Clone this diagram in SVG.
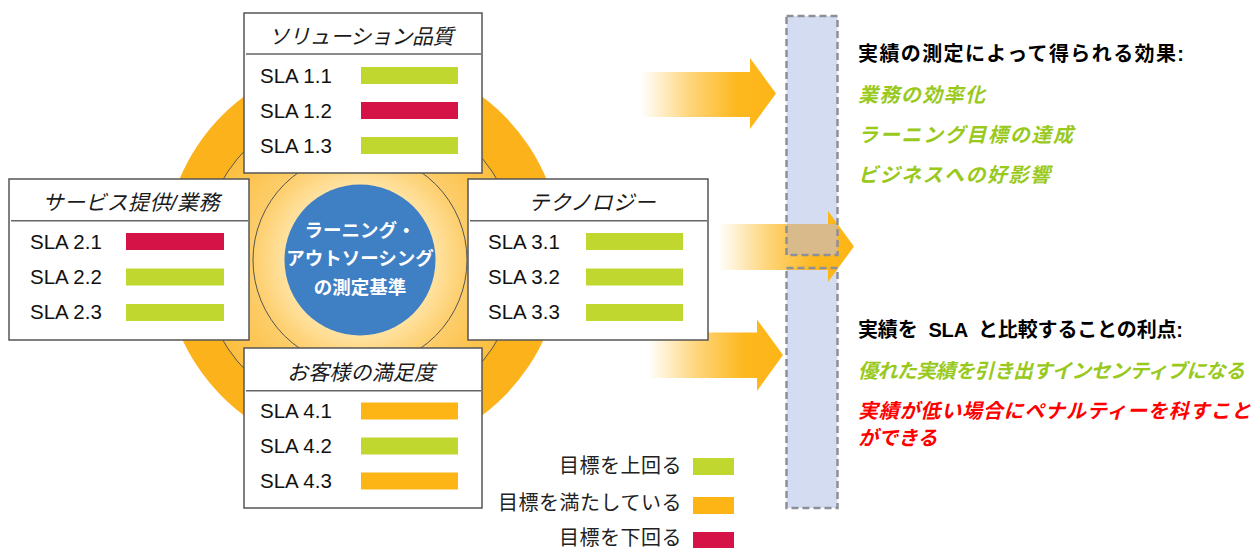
<svg xmlns="http://www.w3.org/2000/svg" width="1255" height="548" viewBox="0 0 1255 548">
<defs>
<radialGradient id="disc" cx="360" cy="260" r="200" gradientUnits="userSpaceOnUse">
<stop offset="0" stop-color="#FFF2CF"/>
<stop offset="0.38" stop-color="#FFE2A0"/>
<stop offset="0.54" stop-color="#FDCD6A"/>
<stop offset="0.8" stop-color="#FCBE3E"/>
<stop offset="1" stop-color="#FCB31B"/>
</radialGradient>
<linearGradient id="arrowGrad" x1="0" y1="0" x2="1" y2="0">
<stop offset="0" stop-color="#FDB515" stop-opacity="0"/>
<stop offset="0.35" stop-color="#FDB515" stop-opacity="0.55"/>
<stop offset="0.7" stop-color="#FDB515" stop-opacity="0.95"/>
<stop offset="1" stop-color="#FDB515" stop-opacity="1"/>
</linearGradient>
<style>
.box{fill:#fff;stroke:#555;stroke-width:1.5}
.div{stroke:#666;stroke-width:1.5}
.ttl{font-family:"Liberation Sans","Noto Sans CJK JP",sans-serif;font-size:21px;font-style:italic;fill:#1a1a1a;text-anchor:middle}
.sla{font-family:"Liberation Sans","Noto Sans CJK JP",sans-serif;font-size:20.5px;fill:#111}
.g{fill:#C0D72F}
.r{fill:#D51346}
.o{fill:#FDB515}
.ring{fill:none;stroke:#555;stroke-width:1}
.ctr{font-family:"Liberation Sans","Noto Sans CJK JP",sans-serif;font-size:18.5px;font-weight:bold;fill:#fff;text-anchor:middle}
.hd{font-family:"Liberation Sans","Noto Sans CJK JP",sans-serif;font-size:20px;font-weight:bold;fill:#000}
.gi{font-family:"Liberation Sans","Noto Sans CJK JP",sans-serif;font-size:20px;font-weight:bold;font-style:italic;fill:#99C91C}
.ri{font-family:"Liberation Sans","Noto Sans CJK JP",sans-serif;font-size:20px;font-weight:bold;font-style:italic;fill:#FF0000}
.lg{font-family:"Liberation Sans","Noto Sans CJK JP",sans-serif;font-size:20px;fill:#222;text-anchor:end;letter-spacing:0.5px}
.pane{fill:#D3DCF0}
.dash{fill:none;stroke:#8E9098;stroke-width:2.5;stroke-dasharray:7 4}
</style>
</defs>
<g id="hub">
<circle cx="363" cy="256" r="199" fill="#FCB31B"/>
<circle cx="360" cy="260" r="159" fill="url(#disc)"/>
<circle cx="360" cy="260" r="159" class="ring"/>
<circle cx="360" cy="260" r="107" class="ring"/>
<circle cx="360" cy="260" r="75.5" fill="#3F7FC4"/>
<text class="ctr" x="360" y="237">ラーニング・</text>
<text class="ctr" x="360" y="265">アウトソーシング</text>
<text class="ctr" x="360" y="293.5">の測定基準</text>
</g>
<g id="pane-lower">
<rect class="pane" x="786.5" y="268" width="51" height="240"/>
</g>
<g id="pane-upper-fill">
<rect class="pane" x="786.5" y="16" width="51" height="239"/>
</g>
<g id="connectors">
<path d="M641,72 H750 V58 L776,93.5 L750,129 V117 H641 Z" fill="url(#arrowGrad)"/>
<path d="M718,224 H828 V211 L854,246.5 L828,282 V270 H718 Z" fill="url(#arrowGrad)"/>
<path d="M648,332.5 H757 V319.5 L783,355 L757,391 V378 H648 Z" fill="url(#arrowGrad)"/>
<rect x="786.5" y="224" width="51" height="31" fill="#D9BA8B"/>
</g>
<g id="pane">
<rect class="dash" x="786.5" y="16" width="51" height="239"/>
<rect class="dash" x="786.5" y="268" width="51" height="240"/>
</g>
<g id="box-solution">
<rect class="box" x="244" y="13" width="238" height="160"/>
<line class="div" x1="246" y1="54" x2="481" y2="54"/>
<text class="ttl" x="361" y="43.5" textLength="185">ソリューション品質</text>
<text class="sla" x="260" y="83.3">SLA 1.1</text>
<rect class="g" x="361" y="67" width="97" height="17"/>
<text class="sla" x="260" y="118.3">SLA 1.2</text>
<rect class="r" x="361" y="102" width="97" height="17"/>
<text class="sla" x="260" y="153.3">SLA 1.3</text>
<rect class="g" x="361" y="137" width="97" height="17"/>
</g>
<g id="box-service">
<rect class="box" x="9" y="179" width="240" height="161"/>
<line class="div" x1="11" y1="220.7" x2="248" y2="220.7"/>
<text class="ttl" x="131" y="210" textLength="177">サービス提供/業務</text>
<text class="sla" x="30" y="249.3">SLA 2.1</text>
<rect class="r" x="126" y="233" width="98" height="17"/>
<text class="sla" x="30" y="284.3">SLA 2.2</text>
<rect class="g" x="126" y="268.5" width="98" height="17"/>
<text class="sla" x="30" y="319.3">SLA 2.3</text>
<rect class="g" x="126" y="304" width="98" height="17"/>
</g>
<g id="box-technology">
<rect class="box" x="468" y="179" width="240" height="161"/>
<line class="div" x1="470" y1="220.7" x2="707" y2="220.7"/>
<text class="ttl" x="592" y="210" textLength="127">テクノロジー</text>
<text class="sla" x="488" y="249.3">SLA 3.1</text>
<rect class="g" x="586" y="233" width="97" height="17"/>
<text class="sla" x="488" y="284.3">SLA 3.2</text>
<rect class="g" x="586" y="268.5" width="97" height="17"/>
<text class="sla" x="488" y="319.3">SLA 3.3</text>
<rect class="g" x="586" y="304" width="97" height="17"/>
</g>
<g id="box-customer">
<rect class="box" x="244" y="348" width="238" height="160"/>
<line class="div" x1="246" y1="390.7" x2="481" y2="390.7"/>
<text class="ttl" x="361" y="380" textLength="148">お客様の満足度</text>
<text class="sla" x="260" y="418.3">SLA 4.1</text>
<rect class="o" x="361" y="402.5" width="97" height="17"/>
<text class="sla" x="260" y="453.3">SLA 4.2</text>
<rect class="g" x="361" y="437.5" width="97" height="17"/>
<text class="sla" x="260" y="488.3">SLA 4.3</text>
<rect class="o" x="361" y="472.5" width="97" height="17"/>
</g>
<g id="effects">
<text class="hd" x="858" y="61" textLength="326">実績の測定によって得られる効果:</text>
<text class="gi" x="858" y="101.5" textLength="127">業務の効率化</text>
<text class="gi" x="858" y="141.5" textLength="215">ラーニング目標の達成</text>
<text class="gi" x="858" y="181.5" textLength="192">ビジネスへの好影響</text>
</g>
<g id="benefits">
<text class="hd" x="858" y="336.5" textLength="325" xml:space="preserve">実績を  SLA  と比較することの利点:</text>
<text class="gi" x="858" y="378" textLength="387">優れた実績を引き出すインセンティブになる</text>
<text class="ri" x="858" y="418" textLength="393">実績が低い場合にペナルティーを科すこと</text>
<text class="ri" x="858" y="445">ができる</text>
</g>
<g id="legend">
<text class="lg" x="682" y="473">目標を上回る</text>
<rect class="g" x="693" y="458" width="41" height="17"/>
<text class="lg" x="682" y="510">目標を満たしている</text>
<rect class="o" x="693" y="497" width="41" height="17"/>
<text class="lg" x="682" y="545">目標を下回る</text>
<rect class="r" x="693" y="532" width="41" height="17"/>
</g>
</svg>
